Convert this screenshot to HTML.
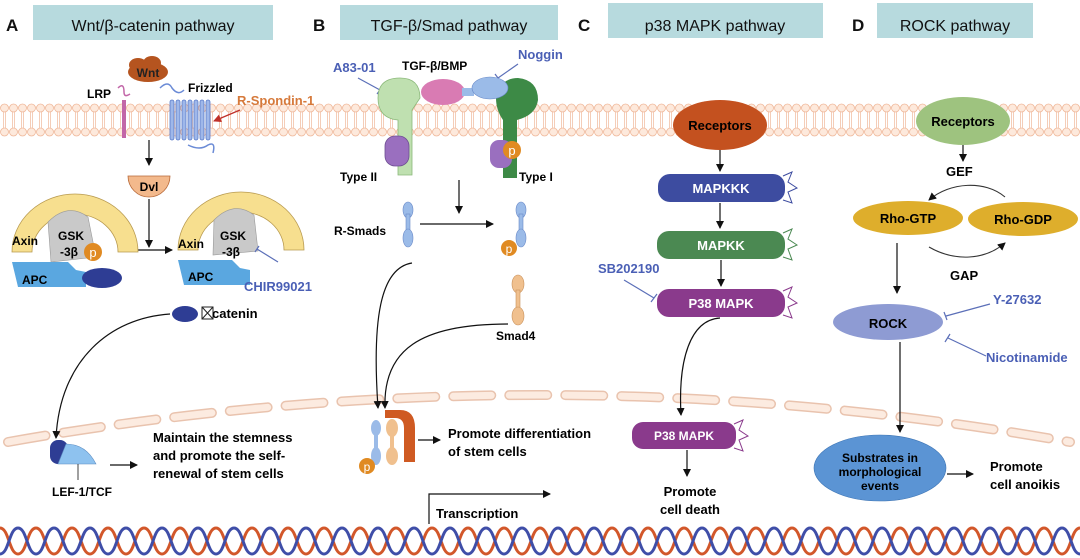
<!DOCTYPE html>
<html><head><meta charset="utf-8"><style>
html,body{margin:0;padding:0;background:#fff}
svg{display:block;font-family:"Liberation Sans",sans-serif}
.b{font-weight:bold}
</style></head><body>
<svg width="1080" height="558" viewBox="0 0 1080 558" xmlns="http://www.w3.org/2000/svg">
<defs>
<pattern id="mem" x="0" y="103" width="9" height="34" patternUnits="userSpaceOnUse">
<circle cx="4.5" cy="5" r="4" fill="#fde9dc" stroke="#f0b89a" stroke-width="0.8"/>
<circle cx="4.5" cy="29" r="4" fill="#fde9dc" stroke="#f0b89a" stroke-width="0.8"/>
<line x1="3.5" y1="9" x2="3.5" y2="25" stroke="#f0b89a" stroke-width="0.7"/>
<line x1="5.5" y1="9" x2="5.5" y2="25" stroke="#f0b89a" stroke-width="0.7"/>
</pattern>
<pattern id="dna" x="0" y="524" width="36" height="34" patternUnits="userSpaceOnUse">
<path d="M0,4 C9,4 9,30 18,30 C27,30 27,4 36,4" fill="none" stroke="#d2572a" stroke-width="3"/>
<path d="M0,30 C9,30 9,4 18,4 C27,4 27,30 36,30" fill="none" stroke="#3f4ea8" stroke-width="3"/>
</pattern>
<marker id="ar" markerWidth="8" markerHeight="8" refX="7" refY="4" orient="auto" markerUnits="userSpaceOnUse"><path d="M0,0 L8,4 L0,8 z" fill="#111"/></marker>
<marker id="arr" markerWidth="8" markerHeight="8" refX="7" refY="4" orient="auto" markerUnits="userSpaceOnUse"><path d="M0,0 L8,4 L0,8 z" fill="#c0302a"/></marker>
</defs>
<!-- headers -->
<rect x="33" y="5" width="240" height="35" fill="#b7dade"/>
<rect x="340" y="5" width="218" height="35" fill="#b7dade"/>
<rect x="608" y="3" width="215" height="35" fill="#b7dade"/>
<rect x="877" y="3" width="156" height="35" fill="#b7dade"/>
<g font-size="17" class="b" fill="#111">
<text x="6" y="31">A</text><text x="313" y="31">B</text><text x="578" y="31">C</text><text x="852" y="31">D</text>
</g>
<g font-size="16" fill="#111" text-anchor="middle">
<text x="153" y="31">Wnt/β-catenin pathway</text>
<text x="449" y="31">TGF-β/Smad pathway</text>
<text x="715" y="31">p38 MAPK pathway</text>
<text x="955" y="31">ROCK pathway</text>
</g>
<!-- membrane -->
<rect x="0" y="103" width="1080" height="34" fill="url(#mem)"/>
<!-- nuclear membrane -->
<path d="M8,442 Q540,348 1070,442" fill="none" stroke="#e9c3ae" stroke-width="10" stroke-linecap="round" stroke-dasharray="38 18"/>
<path d="M8,442 Q540,348 1070,442" fill="none" stroke="#fcebe0" stroke-width="7" stroke-linecap="round" stroke-dasharray="38 18"/>
<!-- DNA -->
<rect x="0" y="524" width="1080" height="34" fill="url(#dna)"/>

<!-- Panel A -->
<g>
<ellipse cx="148" cy="72" rx="20" ry="10" fill="#b5541f"/>
<ellipse cx="138" cy="65" rx="9" ry="7" fill="#b5541f"/><ellipse cx="152" cy="63" rx="9" ry="7" fill="#b5541f"/>
<text x="148" y="77" font-size="12" class="b" text-anchor="middle" fill="#222">Wnt</text>
<text x="87" y="98" font-size="12" class="b">LRP</text>
<path d="M118,88 q6,-6 6,4 q0,6 6,2" fill="none" stroke="#c266a8" stroke-width="1.5"/>
<rect x="122" y="100" width="4" height="38" fill="#c266a8"/>
<text x="188" y="92" font-size="12" class="b">Frizzled</text>
<path d="M160,88 q8,-8 12,0 q6,8 12,2" fill="none" stroke="#6b8bd6" stroke-width="1.5"/>
<g fill="#9fb8ea" stroke="#5a7ac8" stroke-width="0.8">
<rect x="170" y="100" width="4" height="40" rx="2"/><rect x="176" y="100" width="4" height="40" rx="2"/><rect x="182" y="100" width="4" height="40" rx="2"/><rect x="188" y="100" width="4" height="40" rx="2"/><rect x="194" y="100" width="4" height="40" rx="2"/><rect x="200" y="100" width="4" height="40" rx="2"/><rect x="206" y="100" width="4" height="40" rx="2"/>
</g>
<path d="M188,145 q12,6 20,0 q8,-4 5,8" fill="none" stroke="#6b8bd6" stroke-width="1.5"/>
<text x="237" y="105" font-size="13" class="b" fill="#d6793a">R-Spondin-1</text>
<line x1="240" y1="110" x2="214" y2="121" stroke="#c0302a" stroke-width="1.3" marker-end="url(#arr)"/>
<line x1="149" y1="140" x2="149" y2="165" stroke="#111" stroke-width="1.2" marker-end="url(#ar)"/>
<path d="M128,176 a21,21 0 0 0 42,0 z" fill="#f3b98c" stroke="#b86a3a" stroke-width="0.8"/>
<text x="149" y="191" font-size="12" class="b" text-anchor="middle">Dvl</text>
<line x1="149" y1="199" x2="149" y2="247" stroke="#111" stroke-width="1.2" marker-end="url(#ar)"/>
<line x1="127" y1="250" x2="172" y2="250" stroke="#111" stroke-width="1.2" marker-end="url(#ar)"/>
<!-- left complex -->
<path d="M12,252 A63,58 0 0 1 138,252 L118,252 A43,38 0 0 0 32,252 z" fill="#f7df8f" stroke="#b89a50" stroke-width="0.8"/>
<path d="M48,222 q20,-20 40,-5 l8,40 l-45,5 z" fill="#c9c9c9" stroke="#999" stroke-width="0.6"/>
<text x="12" y="245" font-size="12" class="b">Axin</text>
<text x="58" y="240" font-size="12" class="b">GSK</text><text x="60" y="256" font-size="12" class="b">-3β</text>
<circle cx="93" cy="252" r="9" fill="#e08a22"/><text x="93" y="257" font-size="13" text-anchor="middle" fill="#fff">p</text>
<path d="M12,262 L68,262 L76,270 L86,272 L86,287 L18,287 z" fill="#5aa7e0"/>
<text x="22" y="284" font-size="12" class="b">APC</text>
<ellipse cx="102" cy="278" rx="20" ry="10" fill="#2e3d94"/>
<!-- right complex -->
<path d="M178,250 A63,58 0 0 1 304,250 L284,250 A43,38 0 0 0 198,250 z" fill="#f7df8f" stroke="#b89a50" stroke-width="0.8"/>
<path d="M214,220 q20,-20 40,-5 l4,36 l-45,4 z" fill="#c9c9c9" stroke="#999" stroke-width="0.6"/>
<text x="178" y="248" font-size="12" class="b">Axin</text>
<text x="220" y="240" font-size="12" class="b">GSK</text><text x="222" y="256" font-size="12" class="b">-3β</text>
<path d="M178,260 L232,260 L240,268 L250,270 L250,285 L184,285 z" fill="#5aa7e0"/>
<text x="188" y="281" font-size="12" class="b">APC</text>
<path d="M257,249 L278,262 M255,252 L259,246" stroke="#5b6fb8" stroke-width="1.2" fill="none"/>
<text x="244" y="291" font-size="13" class="b" fill="#4a5fb5">CHIR99021</text>
<ellipse cx="185" cy="314" rx="13" ry="8" fill="#2e3d94"/>
<rect x="202" y="307" width="11" height="12" fill="none" stroke="#222" stroke-width="1"/>
<path d="M202,307 L213,319 M213,307 L202,319" stroke="#222" stroke-width="1"/>
<text x="212" y="318" font-size="13" class="b">catenin</text>
<path d="M170,314 C110,318 60,360 56,438" fill="none" stroke="#111" stroke-width="1.2" marker-end="url(#ar)"/>
<rect x="50" y="440" width="18" height="24" rx="8" fill="#2e3d94"/>
<path d="M66,444 q20,0 30,20 l-38,0 z" fill="#8ec2ef" stroke="#5a8ac0" stroke-width="0.6"/>
<line x1="78" y1="464" x2="78" y2="480" stroke="#111" stroke-width="0.8"/>
<text x="52" y="496" font-size="12" class="b">LEF-1/TCF</text>
<line x1="110" y1="465" x2="137" y2="465" stroke="#111" stroke-width="1.2" marker-end="url(#ar)"/>
<g font-size="13" class="b"><text x="153" y="442">Maintain the stemness</text><text x="153" y="460">and promote the self-</text><text x="153" y="478">renewal of stem cells</text></g>
</g>

<!-- Panel B -->
<g>
<text x="333" y="72" font-size="13" class="b" fill="#4a5fb5">A83-01</text>
<text x="402" y="70" font-size="12" class="b">TGF-β/BMP</text>
<text x="518" y="59" font-size="13" class="b" fill="#4a5fb5">Noggin</text>
<path d="M358,78 L380,90 M377,94 L383,86" stroke="#5b6fb8" stroke-width="1.2"/>
<path d="M518,64 L498,78 M495,74 L501,82" stroke="#5b6fb8" stroke-width="1.2"/>
<path d="M398,175 L398,120 Q378,118 378,98 Q378,78 400,78 Q420,78 420,98 L412,110 L412,175 z" fill="#bfe0b0" stroke="#8bb87a" stroke-width="0.8"/>
<rect x="385" y="136" width="24" height="30" rx="10" fill="#9a6fbf" stroke="#6e4e92" stroke-width="0.8"/>
<path d="M503,178 L503,120 Q496,110 496,98 Q500,78 518,78 Q538,80 538,100 Q536,115 517,120 L517,178 z" fill="#3d8a46"/>
<rect x="490" y="140" width="22" height="28" rx="9" fill="#9a6fbf"/>
<circle cx="512" cy="150" r="9" fill="#e08a22"/><text x="512" y="155" font-size="13" text-anchor="middle" fill="#fff">p</text>
<ellipse cx="443" cy="92" rx="22" ry="13" fill="#d97bb3"/>
<rect x="462" y="88" width="12" height="8" fill="#9bbbe8"/>
<ellipse cx="490" cy="88" rx="18" ry="11" fill="#9bbbe8" stroke="#6a8ac8" stroke-width="0.6"/>
<text x="340" y="181" font-size="12" class="b">Type II</text>
<text x="519" y="181" font-size="12" class="b">Type I</text>
<line x1="459" y1="180" x2="459" y2="213" stroke="#111" stroke-width="1.2" marker-end="url(#ar)"/>
<text x="334" y="235" font-size="12" class="b">R-Smads</text>
<g fill="#9bbbe8" stroke="#6a8ac8" stroke-width="0.6"><ellipse cx="408" cy="210" rx="5" ry="8"/><rect x="406" y="214" width="4" height="18"/><ellipse cx="408" cy="238" rx="5" ry="9"/>
<ellipse cx="521" cy="210" rx="5" ry="8"/><rect x="519" y="214" width="4" height="18"/><ellipse cx="521" cy="238" rx="5" ry="9"/></g>
<circle cx="509" cy="248" r="8" fill="#e08a22"/><text x="509" y="253" font-size="12" text-anchor="middle" fill="#fff">p</text>
<line x1="420" y1="224" x2="493" y2="224" stroke="#111" stroke-width="1.2" marker-end="url(#ar)"/>
<g fill="#f0c08e" stroke="#c8905a" stroke-width="0.6"><ellipse cx="518" cy="284" rx="6" ry="9"/><rect x="516" y="290" width="4" height="20"/><ellipse cx="518" cy="316" rx="6" ry="9"/></g>
<text x="496" y="340" font-size="12" class="b">Smad4</text>
<path d="M412,263 C380,268 372,320 378,408" fill="none" stroke="#111" stroke-width="1.2" marker-end="url(#ar)"/>
<path d="M508,324 C420,324 383,350 385,408" fill="none" stroke="#111" stroke-width="1.2" marker-end="url(#ar)"/>
<path d="M385,410 L400,410 Q415,410 415,428 L415,462 L404,462 L404,428 Q404,418 395,418 L385,418 z" fill="#cf5a22"/>
<g fill="#9bbbe8"><ellipse cx="376" cy="428" rx="5" ry="8"/><rect x="374" y="432" width="4" height="18"/><ellipse cx="376" cy="456" rx="5" ry="9"/></g>
<g fill="#f0c08e"><ellipse cx="392" cy="428" rx="6" ry="9"/><rect x="390" y="434" width="4" height="18"/><ellipse cx="392" cy="456" rx="6" ry="9"/></g>
<circle cx="367" cy="466" r="8" fill="#e08a22"/><text x="367" y="471" font-size="12" text-antiaselect="" text-anchor="middle" fill="#fff">p</text>
<line x1="418" y1="440" x2="440" y2="440" stroke="#111" stroke-width="1.2" marker-end="url(#ar)"/>
<g font-size="13" class="b"><text x="448" y="438">Promote differentiation</text><text x="448" y="456">of stem cells</text></g>
<path d="M429,524 L429,494 L550,494" fill="none" stroke="#111" stroke-width="1.2" marker-end="url(#ar)"/>
<text x="436" y="518" font-size="13" class="b">Transcription</text>
</g>

<!-- Panel C -->
<g>
<ellipse cx="720" cy="125" rx="47" ry="25" fill="#c4511f"/>
<text x="720" y="130" font-size="13" class="b" text-anchor="middle">Receptors</text>
<line x1="720" y1="150" x2="720" y2="171" stroke="#111" stroke-width="1.2" marker-end="url(#ar)"/>
<rect x="658" y="174" width="127" height="28" rx="12" fill="#3d4ca0"/>
<text x="721" y="193" font-size="13" class="b" text-anchor="middle" fill="#fff">MAPKKK</text>
<polyline points="783,176 792,172 788,182 797,188 788,192 792,203 783,200" fill="none" stroke="#3d4ca0" stroke-width="1"/>
<line x1="720" y1="203" x2="720" y2="228" stroke="#111" stroke-width="1.2" marker-end="url(#ar)"/>
<rect x="657" y="231" width="128" height="28" rx="12" fill="#4b8952"/>
<text x="721" y="250" font-size="13" class="b" text-anchor="middle" fill="#fff">MAPKK</text>
<polyline points="783,233 792,229 788,239 797,245 788,249 792,260 783,257" fill="none" stroke="#4b8952" stroke-width="1"/>
<line x1="721" y1="260" x2="721" y2="286" stroke="#111" stroke-width="1.2" marker-end="url(#ar)"/>
<rect x="657" y="289" width="128" height="28" rx="12" fill="#8a3a8c"/>
<text x="721" y="308" font-size="13" class="b" text-anchor="middle" fill="#fff">P38 MAPK</text>
<polyline points="783,291 792,287 788,297 797,303 788,307 792,318 783,315" fill="none" stroke="#8a3a8c" stroke-width="1"/>
<text x="598" y="273" font-size="13" class="b" fill="#4a5fb5">SB202190</text>
<path d="M624,280 L654,298 M651,302 L657,294" stroke="#5b6fb8" stroke-width="1.2"/>
<path d="M720,318 C690,320 678,360 681,415" fill="none" stroke="#111" stroke-width="1.2" marker-end="url(#ar)"/>
<rect x="632" y="422" width="104" height="27" rx="11" fill="#8a3a8c"/>
<text x="684" y="440" font-size="12" class="b" text-anchor="middle" fill="#fff">P38 MAPK</text>
<polyline points="734,424 743,420 739,430 748,436 739,440 743,451 734,448" fill="none" stroke="#8a3a8c" stroke-width="1"/>
<line x1="687" y1="450" x2="687" y2="476" stroke="#111" stroke-width="1.2" marker-end="url(#ar)"/>
<g font-size="13" class="b" text-anchor="middle"><text x="690" y="496">Promote</text><text x="690" y="514">cell death</text></g>
</g>

<!-- Panel D -->
<g>
<ellipse cx="963" cy="121" rx="47" ry="24" fill="#9ec37f"/>
<text x="963" y="126" font-size="13" class="b" text-anchor="middle">Receptors</text>
<line x1="963" y1="145" x2="963" y2="161" stroke="#111" stroke-width="1.2" marker-end="url(#ar)"/>
<text x="946" y="176" font-size="13" class="b">GEF</text>
<path d="M1005,197 C985,180 950,182 929,200" fill="none" stroke="#333" stroke-width="1.1" marker-end="url(#ar)"/>
<ellipse cx="908" cy="218" rx="55" ry="17" fill="#deae2c"/>
<text x="908" y="223" font-size="13" class="b" text-anchor="middle">Rho-GTP</text>
<ellipse cx="1023" cy="219" rx="55" ry="17" fill="#deae2c"/>
<text x="1023" y="224" font-size="13" class="b" text-anchor="middle">Rho-GDP</text>
<path d="M929,247 C955,262 985,260 1005,243" fill="none" stroke="#333" stroke-width="1.1" marker-end="url(#ar)"/>
<text x="950" y="280" font-size="13" class="b">GAP</text>
<line x1="897" y1="243" x2="897" y2="293" stroke="#111" stroke-width="1.2" marker-end="url(#ar)"/>
<ellipse cx="888" cy="322" rx="55" ry="18" fill="#8e9bd3"/>
<text x="888" y="328" font-size="13" class="b" text-anchor="middle">ROCK</text>
<text x="993" y="304" font-size="13" class="b" fill="#4a5fb5">Y-27632</text>
<path d="M990,304 L946,316 M944,312 L947,320" stroke="#5b6fb8" stroke-width="1.2"/>
<text x="986" y="362" font-size="13" class="b" fill="#4a5fb5">Nicotinamide</text>
<path d="M986,356 L948,338 M945,342 L950,334" stroke="#5b6fb8" stroke-width="1.2"/>
<line x1="900" y1="342" x2="900" y2="432" stroke="#111" stroke-width="1.2" marker-end="url(#ar)"/>
<ellipse cx="880" cy="468" rx="66" ry="33" fill="#5b94d4" stroke="#3c74b4" stroke-width="0.6"/>
<g font-size="12" class="b" text-anchor="middle"><text x="880" y="462">Substrates in</text><text x="880" y="476">morphological</text><text x="880" y="490">events</text></g>
<line x1="947" y1="474" x2="973" y2="474" stroke="#111" stroke-width="1.2" marker-end="url(#ar)"/>
<g font-size="13" class="b"><text x="990" y="471">Promote</text><text x="990" y="489">cell anoikis</text></g>
</g>
</svg>
</body></html>
